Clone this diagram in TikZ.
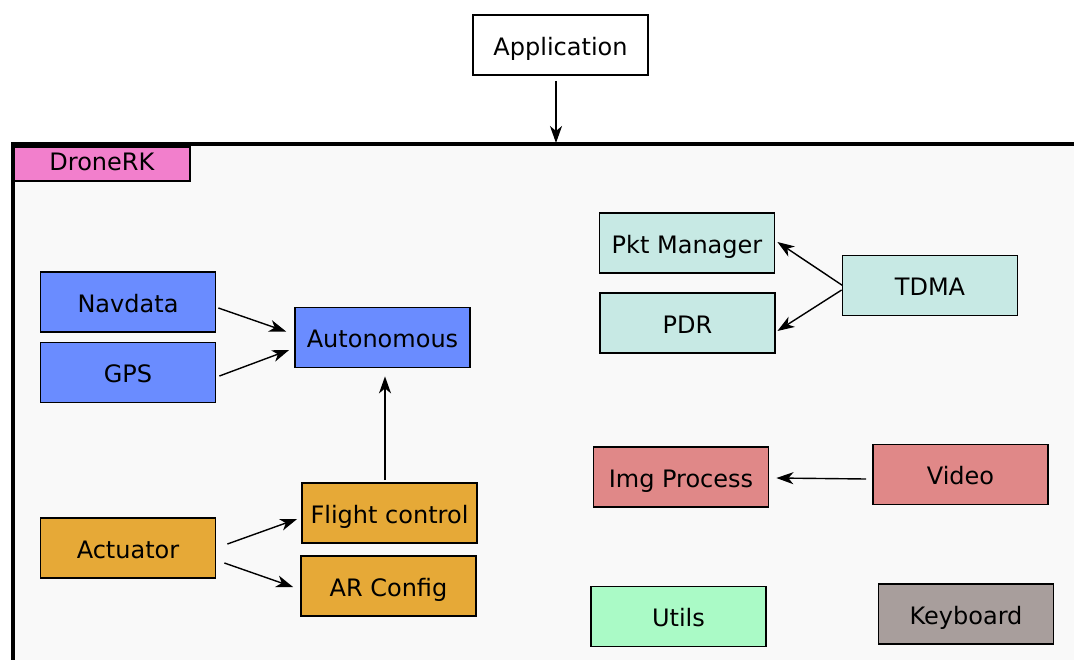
\documentclass[tikz,border=0pt]{standalone}
\usepackage{fontspec}
\setmainfont{DejaVu Sans}
\usetikzlibrary{arrows.meta}
\definecolor{cblue}{RGB}{106,140,255}
\definecolor{corange}{RGB}{230,169,55}
\definecolor{cteal}{RGB}{199,233,228}
\definecolor{cred}{RGB}{224,136,136}
\definecolor{cgreen}{RGB}{170,250,198}
\definecolor{cgray}{RGB}{168,158,156}
\definecolor{cpink}{RGB}{242,127,204}
\definecolor{cframe}{RGB}{249,249,249}
\tikzset{
  box/.style={draw=black, line width=1.8pt, minimum width=175pt, minimum height=60pt, inner sep=0pt, text height=20pt, text depth=0pt, font=\fontsize{24}{28}\selectfont},
  conn/.style={line width=1.4pt, -{Stealth[length=17pt,width=12pt,inset=5pt]}},
}
\begin{document}
\begin{tikzpicture}[x=1pt,y=-1pt]
\useasboundingbox (0,0) rectangle (1074,659);
\fill[white] (0,0) rectangle (1074,659);
% frame
\fill[cframe] (12.5,143.5) rectangle (1080,665);
\draw[line width=4pt] (12.5,665) -- (12.5,143.5) -- (1080,143.5);
\node[draw=black, line width=1.8pt, fill=cpink, minimum width=176pt, minimum height=34pt, inner sep=0pt, text height=14pt, text depth=0pt, anchor=north west, font=\fontsize{24}{28}\selectfont] (dronerk) at (13,146) {DroneRK};
\coordinate (frametop) at (556,143);

\node[box, fill=white] (app) at (560.5,45) {Application};

\node[box, fill=cblue] (navdata) at (128,302) {Navdata};
\node[box, fill=cblue] (gps) at (128,372.5) {GPS};
\node[box, fill=cblue] (auto) at (382.5,337.5) {Autonomous};

\node[box, fill=corange] (actuator) at (128,548) {Actuator};
\node[box, fill=corange] (flight) at (389.5,513) {Flight control};
\node[box, fill=corange] (arconfig) at (388.5,586) {AR Config};

\node[box, fill=cteal] (pkt) at (687,243) {Pkt Manager};
\node[box, fill=cteal] (pdr) at (687.5,323) {PDR};
\node[box, fill=cteal] (tdma) at (930,285.5) {TDMA};

\node[box, fill=cred] (img) at (681,477) {Img Process};
\node[box, fill=cred] (video) at (960.5,474.5) {Video};

\node[box, fill=cgreen] (utils) at (678.5,616.5) {Utils};
\node[box, fill=cgray] (keyboard) at (966,614) {Keyboard};

% connectors
\draw[conn] ([xshift=-4.5pt,yshift=-5pt]app.south) -- (frametop);
\draw[conn] ([xshift=2pt,yshift=-6pt]navdata.east) -- ([xshift=-8pt,yshift=6pt]auto.west);
\draw[conn] ([xshift=3pt,yshift=-3.5pt]gps.east) -- ([xshift=-5pt,yshift=-12.5pt]auto.west);
\draw[conn] ([xshift=-4.5pt,yshift=2pt]flight.north) -- ([xshift=2.5pt,yshift=-8pt]auto.south);
\draw[conn] ([xshift=11pt,yshift=4pt]actuator.east) -- ([xshift=-4pt,yshift=-6pt]flight.west);
\draw[conn] ([xshift=8pt,yshift=-15pt]actuator.east) -- ([xshift=-7pt,yshift=-1pt]arconfig.west);
\draw[conn] ([xshift=1pt]tdma.west) -- ([xshift=2pt,yshift=1pt]pkt.east);
\draw[conn] ([yshift=-4.5pt]tdma.west) -- ([xshift=1.5pt,yshift=-8pt]pdr.east);
\draw[conn] ([xshift=-6pt,yshift=-4.5pt]video.west) -- ([xshift=7pt,yshift=-1pt]img.east);
\end{tikzpicture}
\end{document}
